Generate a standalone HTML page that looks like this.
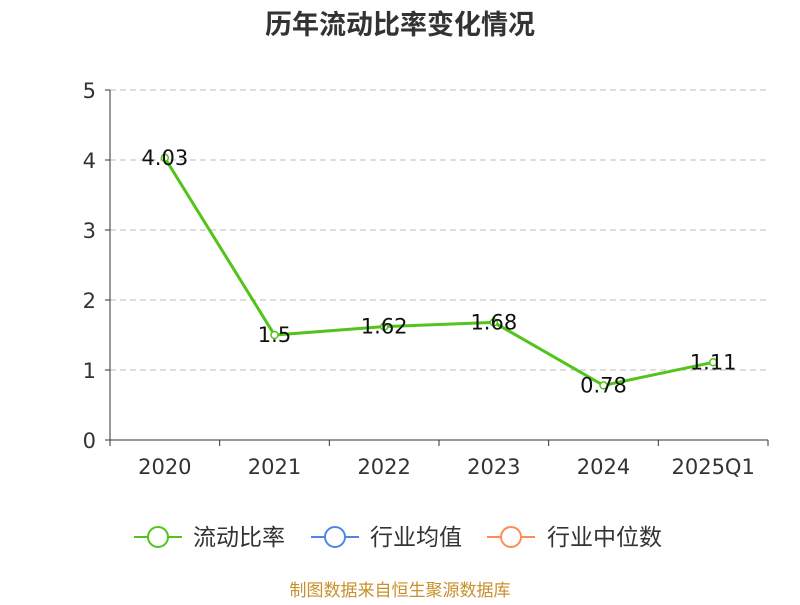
<!DOCTYPE html>
<html><head><meta charset="utf-8"><style>
body{margin:0;background:#fff;}
svg text{font-family:"DejaVu Sans","Noto Sans CJK SC",sans-serif;}
</style></head><body>
<svg id="c" width="800" height="600" xmlns="http://www.w3.org/2000/svg">
<text x="400" y="34" text-anchor="middle" font-size="27" font-weight="bold" fill="#333" style="font-family:'Noto Sans CJK SC',sans-serif">历年流动比率变化情况</text>
<g id="grid"></g><g id="axes"></g><g id="series"></g>
<g style="font-family:'Noto Sans CJK SC',sans-serif">
<g><line x1="134" y1="537" x2="182" y2="537" stroke="#52c41a" stroke-width="2"/><circle cx="158" cy="537" r="10" fill="#fff" stroke="#52c41a" stroke-width="2"/><text x="193" y="545" font-size="23" fill="#333" style="font-family:'Noto Sans CJK SC',sans-serif">流动比率</text></g>
<g><line x1="311" y1="537" x2="359" y2="537" stroke="#4e86e8" stroke-width="2"/><circle cx="335" cy="537" r="10" fill="#fff" stroke="#4e86e8" stroke-width="2"/><text x="370" y="545" font-size="23" fill="#333" style="font-family:'Noto Sans CJK SC',sans-serif">行业均值</text></g>
<g><line x1="487" y1="537" x2="535" y2="537" stroke="#ff8c55" stroke-width="2"/><circle cx="511" cy="537" r="10" fill="#fff" stroke="#ff8c55" stroke-width="2"/><text x="547" y="545" font-size="23" fill="#333" style="font-family:'Noto Sans CJK SC',sans-serif">行业中位数</text></g>
</g>
<text x="400" y="596" text-anchor="middle" font-size="17" fill="#c8902a" style="font-family:'Noto Sans CJK SC',sans-serif">制图数据来自恒生聚源数据库</text>
</svg>
<script>
const categories=["2020","2021","2022","2023","2024","2025Q1"];
const values=[4.03,1.5,1.62,1.68,0.78,1.11];
const labels=["4.03","1.5","1.62","1.68","0.78","1.11"];
const yTicks=[0,1,2,3,4,5];
const NS="http://www.w3.org/2000/svg";
const L=110,R=768,T=90,B=440,yMax=5;
const bw=(R-L)/categories.length;
const xs=i=>L+bw*(i+0.5);
const ys=v=>B-(v/yMax)*(B-T);
function mk(p,tag,a){const e=document.createElementNS(NS,tag);for(const k in a)e.setAttribute(k,a[k]);p.appendChild(e);return e;}
const g=document.getElementById('grid'),ax=document.getElementById('axes'),s=document.getElementById('series');
yTicks.forEach(t=>{
  const y=ys(t);
  if(t>0){const l=mk(g,'line',{x1:L,x2:R,y1:y,y2:y,stroke:'#bbb','stroke-dasharray':'6,4'});
  
  }
  const tk=mk(ax,'line',{x1:L-5,x2:L,y1:y,y2:y,stroke:'#333'});
  
  
  const tx=mk(ax,'text',{x:L-14,y:y+8,'text-anchor':'end','font-size':'21',fill:'#333'});tx.textContent=t;
  
  
});
const ya=mk(ax,'line',{x1:L,x2:L,y1:T,y2:B,stroke:'#333'});


const xa=mk(ax,'line',{x1:L,x2:R,y1:B,y2:B,stroke:'#333'});


for(let i=0;i<=categories.length;i++){const x=L+bw*i;const t=mk(ax,'line',{x1:x,x2:x,y1:B,y2:B+6,stroke:'#333'});
  
  }
categories.forEach((c,i)=>{const t=mk(ax,'text',{x:xs(i),y:B+34,'text-anchor':'middle','font-size':'21',fill:'#333'});t.textContent=c;
  
  });
const pl=mk(s,'polyline',{points:values.map((v,i)=>xs(i)+','+ys(v)).join(' '),fill:'none',stroke:'#52c41a','stroke-width':3});


values.forEach((v,i)=>{
  const c=mk(s,'circle',{cx:xs(i),cy:ys(v),r:3.5,fill:'#fff',stroke:'#52c41a','stroke-width':1.5});
  
  
  const t=mk(s,'text',{x:xs(i),y:ys(v)+7,'text-anchor':'middle','font-size':'21',fill:'#111'});t.textContent=labels[i];
  
  
});
</script>
</body></html>
